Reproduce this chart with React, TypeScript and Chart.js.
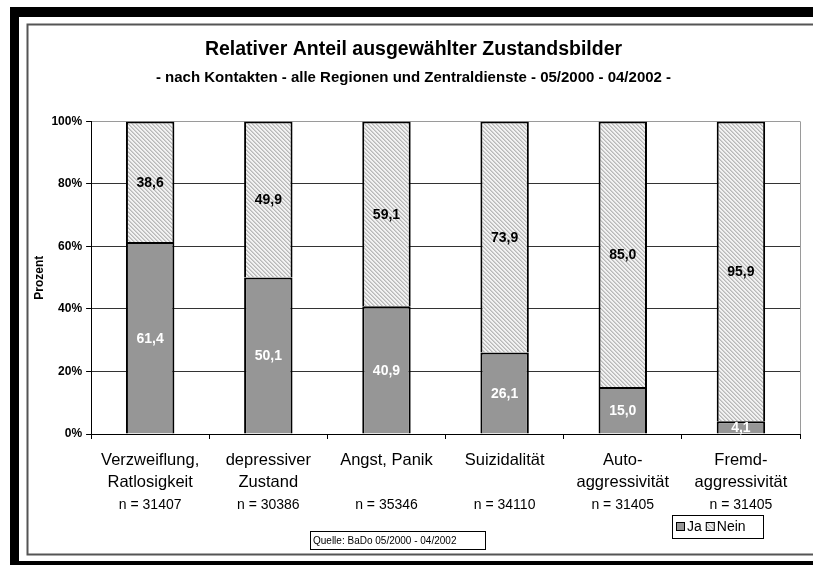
import React, { useEffect, useRef } from "react";
import { Chart, registerables } from "chart.js";

Chart.register(...registerables);

const FONT = "'Liberation Sans', Arial, Helvetica, sans-serif";

const categories: string[][] = [
  ["Verzweiflung,", "Ratlosigkeit"],
  ["depressiver", "Zustand"],
  ["Angst, Panik"],
  ["Suizidalität"],
  ["Auto-", "aggressivität"],
  ["Fremd-", "aggressivität"],
];
const sampleSizes: string[] = [
  "n = 31407",
  "n = 30386",
  "n = 35346",
  "n = 34110",
  "n = 31405",
  "n = 31405",
];
const jaValues: number[] = [61.4, 50.1, 40.9, 26.1, 15.0, 4.1];
const neinValues: number[] = [38.6, 49.9, 59.1, 73.9, 85.0, 95.9];
const yTicks: number[] = [0, 20, 40, 60, 80, 100];

const titleText = "Relativer Anteil ausgewählter Zustandsbilder";
const subtitleText = "- nach Kontakten - alle Regionen und Zentraldienste - 05/2000 - 04/2002 -";
const sourceText = "Quelle: BaDo 05/2000 - 04/2002";

function makeHatch(): CanvasPattern | string {
  const c = document.createElement("canvas");
  c.width = 4;
  c.height = 4;
  const g = c.getContext("2d");
  if (!g) return "#d6d6d6";
  g.fillStyle = "#f2f2f2";
  g.fillRect(0, 0, 4, 4);
  for (let i = 0; i < 4; i++) {
    g.fillStyle = "#b8b8b8";
    g.fillRect(i, i, 1, 1);
    g.fillStyle = "#d0d0d0";
    g.fillRect((i + 1) % 4, i, 1, 1);
  }
  const p = g.createPattern(c, "repeat");
  return p || "#d6d6d6";
}

export default function App() {
  const ref = useRef<HTMLCanvasElement | null>(null);

  useEffect(() => {
    const canvas = ref.current;
    if (!canvas) return;
    const hatch = makeHatch();

    const framePlugin = {
      id: "frame",
      beforeDraw(chart: any) {
        const ctx = chart.ctx;
        const W = chart.width;
        const H = chart.height;
        ctx.save();
        ctx.fillStyle = "#ffffff";
        ctx.fillRect(0, 0, W, H);
        ctx.fillStyle = "#000000";
        ctx.fillRect(10, 7, W - 10, 10);
        ctx.fillRect(10, 7, 9, H - 7);
        ctx.fillRect(10, 561, W - 10, H - 561);
        ctx.strokeStyle = "#555555";
        ctx.lineWidth = 2;
        ctx.beginPath();
        ctx.moveTo(W, 24.5);
        ctx.lineTo(27.5, 24.5);
        ctx.lineTo(27.5, 554.5);
        ctx.lineTo(W, 554.5);
        ctx.stroke();
        ctx.restore();
      },
      afterDraw(chart: any) {
        const ctx = chart.ctx;
        const area = chart.chartArea;
        ctx.save();
        ctx.strokeStyle = "#9a9a9a";
        ctx.lineWidth = 1;
        ctx.beginPath();
        ctx.moveTo(Math.round(area.right) + 0.5, area.top);
        ctx.lineTo(Math.round(area.right) + 0.5, area.bottom);
        ctx.stroke();

        const xs = chart.scales.x;
        ctx.fillStyle = "#000";
        ctx.font = `14px ${FONT}`;
        ctx.textAlign = "center";
        ctx.textBaseline = "middle";
        sampleSizes.forEach((s, i) => {
          ctx.fillText(s, xs.getPixelForValue(i), area.bottom + 71);
        });

        ctx.strokeStyle = "#000";
        ctx.lineWidth = 1;
        ctx.strokeRect(310.5, 531.5, 175, 18);
        ctx.font = `10px ${FONT}`;
        ctx.textAlign = "left";
        ctx.fillText(sourceText, 313, 541);

        ctx.strokeRect(672.5, 515.5, 91, 23);
        ctx.font = `14px ${FONT}`;
        ctx.textBaseline = "middle";
        let x = 676;
        chart.data.datasets.forEach((ds: any) => {
          ctx.fillStyle = ds.backgroundColor;
          ctx.fillRect(x, 522, 9, 9);
          ctx.strokeStyle = "#000";
          ctx.strokeRect(x + 0.5, 522.5, 8, 8);
          ctx.fillStyle = "#000";
          ctx.fillText(ds.label, x + 11, 527);
          x += 11 + ctx.measureText(ds.label).width + 4;
        });
        ctx.restore();
      },
    };

    const valueLabels = {
      id: "valueLabels",
      afterDatasetsDraw(chart: any) {
        const ctx = chart.ctx;
        ctx.save();
        ctx.font = `bold 14px ${FONT}`;
        ctx.textAlign = "center";
        ctx.textBaseline = "middle";
        chart.data.datasets.forEach((ds: any, di: number) => {
          const meta = chart.getDatasetMeta(di);
          meta.data.forEach((el: any, i: number) => {
            const v = ds.data[i];
            const txt = v.toFixed(1).replace(".", ",");
            ctx.fillStyle = di === 0 ? "#ffffff" : "#000000";
            ctx.fillText(txt, el.x, (el.y + el.base) / 2 + 1);
          });
        });
        ctx.restore();
      },
    };

    const chart = new Chart(canvas, {
      type: "bar",
      data: {
        labels: categories,
        datasets: [
          {
            label: "Ja",
            data: jaValues,
            backgroundColor: "#969696",
            borderColor: "#000000",
            borderWidth: 2,
          },
          {
            label: "Nein",
            data: neinValues,
            backgroundColor: hatch as any,
            borderColor: "#000000",
            borderWidth: 2,
          },
        ],
      },
      options: {
        responsive: false,
        animation: false,
        devicePixelRatio: 1,
        layout: { padding: { top: 26, left: 27, right: 13, bottom: 62 } },
        datasets: { bar: { barPercentage: 0.41, categoryPercentage: 1 } },
        plugins: {
          legend: { display: false },
          tooltip: { enabled: false },
          title: {
            display: true,
            text: titleText,
            color: "#000",
            font: { family: FONT, size: 19.5, weight: "bold" },
            padding: { top: 12, bottom: 3 },
          },
          subtitle: {
            display: true,
            text: subtitleText,
            color: "#000",
            font: { family: FONT, size: 15, weight: "bold" },
            padding: { top: 4, bottom: 35 },
          },
        },
        scales: {
          x: {
            stacked: true,
            grid: {
              offset: true,
              drawOnChartArea: false,
              drawTicks: true,
              tickLength: 5,
              color: "#000",
            },
            border: { color: "#000", width: 1 },
            ticks: {
              color: "#000",
              padding: 10,
              maxRotation: 0,
              autoSkip: false,
              font: { family: FONT, size: 16.5, lineHeight: 1.333 },
            },
          },
          y: {
            stacked: true,
            min: 0,
            max: 100,
            afterBuildTicks(scale: any) {
              scale.ticks = yTicks.map((v) => ({ value: v }));
            },
            grid: {
              color: (c: any) => (c.tick && c.tick.value === 100 ? "#9a9a9a" : "#333333"),
              tickColor: "#000",
              tickLength: 5,
              lineWidth: 1,
            },
            border: { color: "#000", width: 1 },
            ticks: {
              color: "#000",
              padding: 4,
              font: { family: FONT, size: 12, weight: "bold" },
              callback: (v: any) => `${v}%`,
            },
            title: {
              display: true,
              text: "Prozent",
              color: "#000",
              font: { family: FONT, size: 12, weight: "bold" },
              padding: { top: 5, bottom: 1 },
            },
          },
        },
      },
      plugins: [framePlugin, valueLabels],
    });

    return () => chart.destroy();
  }, []);

  return (
    <div style={{ position: "fixed", left: 0, top: 0, width: 813, height: 565, background: "#fff" }}>
      <canvas ref={ref} width={813} height={565} style={{ display: "block", width: 813, height: 565 }} />
    </div>
  );
}
